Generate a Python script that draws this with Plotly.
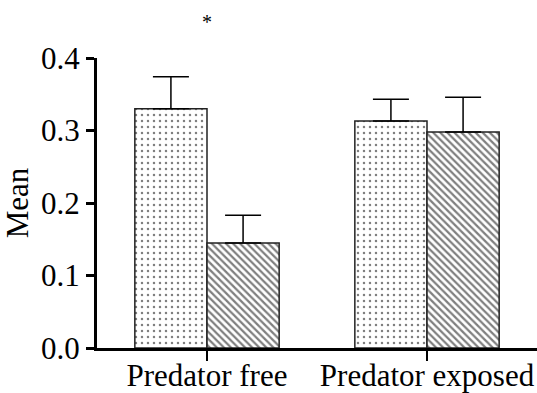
import plotly.graph_objects as go

categories = ["Predator free", "Predator exposed"]
series_a = [0.330, 0.313]
series_a_err = [0.044, 0.030]
series_b = [0.145, 0.298]
series_b_err = [0.038, 0.048]
y_ticks = [0.0, 0.1, 0.2, 0.3, 0.4]

font = "Liberation Serif"

fig = go.Figure()
fig.add_trace(go.Bar(
    x=categories, y=series_a,
    error_y=dict(type="data", array=series_a_err, arrayminus=[0, 0], symmetric=False,
                 color="black", thickness=1.5, width=18),
    marker=dict(color="white", line=dict(color="#222", width=1.5),
                pattern=dict(shape=".", fgcolor="black", bgcolor="white", size=6, solidity=0.13)),
    showlegend=False,
))
fig.add_trace(go.Bar(
    x=categories, y=series_b,
    error_y=dict(type="data", array=series_b_err, arrayminus=[0, 0], symmetric=False,
                 color="black", thickness=1.5, width=18),
    marker=dict(color="white", line=dict(color="#222", width=1.5),
                pattern=dict(shape="\\", fgcolor="black", bgcolor="white", size=5, solidity=0.45)),
    showlegend=False,
))

fig.add_annotation(x=categories[0], y=1.17, xref="x", yref="paper", text="*",
                   showarrow=False, font=dict(family=font, size=20, color="black"))

fig.update_layout(
    width=537, height=393,
    margin=dict(l=97, r=0, t=58, b=45, autoexpand=False),
    paper_bgcolor="white", plot_bgcolor="white",
    barmode="group", bargap=0.344, bargroupgap=0,
    font=dict(family=font, color="black"),
)
fig.update_xaxes(
    showline=True, linecolor="black", linewidth=3,
    ticks="outside", ticklen=10, tickwidth=2, tickcolor="black",
    tickfont=dict(family=font, size=31, color="black"),
    ticklabelstandoff=-12,
    showgrid=False, range=[-0.5, 1.5], automargin=False,
)
fig.update_yaxes(
    range=[0, 0.4], tickvals=y_ticks, ticktext=["0.0", "0.1", "0.2", "0.3", "0.4"],
    showline=True, linecolor="black", linewidth=3,
    ticks="outside", ticklen=8, tickwidth=3, tickcolor="black",
    tickfont=dict(family=font, size=31, color="black"),
    showgrid=False, zeroline=False, automargin=False,
    title=dict(text="Mean", font=dict(family=font, size=31, color="black"), standoff=4),
)

fig.write_html("out.html")
